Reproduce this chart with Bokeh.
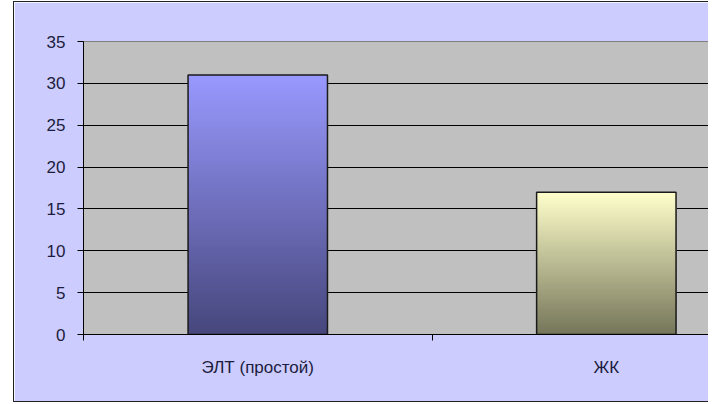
import numpy as np
from bokeh.plotting import figure
from bokeh.models import FixedTicker, Range1d, ColumnDataSource
from bokeh.embed import file_html
from bokeh.resources import INLINE

# ---- data ----
categories = ["ЭЛТ (простой)", "ЖК"]
values = [31, 17]
top_colors = ["#9999FF", "#FFFFCC"]
bottom_colors = ["#46467C", "#75755A"]
y_ticks = [0, 5, 10, 15, 20, 25, 30, 35]

x_pos = [i + 0.5 for i in range(len(categories))]
bar_width = 0.4


def hex2rgb(h):
    h = h.lstrip("#")
    return np.array([int(h[i:i + 2], 16) for i in (0, 2, 4)], dtype=float)


def rgb2hex(c):
    return "#%02x%02x%02x" % tuple(int(round(v)) for v in c)


# gradient layers derived from the values: each layer runs from its start up
# to the bar's top, so later layers cover earlier ones without seams
N = 80
xs, bots, tops, cols = [], [], [], []
for x, v, tc, bc in zip(x_pos, values, top_colors, bottom_colors):
    t_rgb, b_rgb = hex2rgb(tc), hex2rgb(bc)
    edges = np.linspace(0, v, N + 1)
    for i in range(N):
        f = (i + 0.5) / N
        xs.append(x)
        bots.append(edges[i])
        tops.append(v)
        cols.append(rgb2hex(b_rgb + (t_rgb - b_rgb) * f))

grad = ColumnDataSource(dict(x=xs, bottom=bots, top=tops, color=cols))
bars = ColumnDataSource(dict(x=x_pos, top=values))

p = figure(
    width=695, height=401,
    x_range=Range1d(0, 1.796), y_range=Range1d(0, 35),
    output_backend="svg", toolbar_location=None,
    min_border_left=69, min_border_right=0, min_border_top=39, min_border_bottom=69,
    background_fill_color="#C0C0C0", border_fill_color="#CCCCFF",
    margin=(1, 0, 0, 13),
    styles={"border-top": "1px solid #222", "border-left": "1px solid #222",
            "border-bottom": "1px solid #222"},
)
p.outline_line_color = "#808080"

p.vbar(x="x", bottom="bottom", top="top", width=bar_width, source=grad,
       fill_color="color", line_color=None)
p.vbar(x="x", top="top", bottom=0, width=bar_width, source=bars,
       fill_color=None, line_color="#1a1a1a", line_width=1.5)

# y axis
p.yaxis.ticker = FixedTicker(ticks=y_ticks)
p.yaxis.axis_line_color = "black"
p.yaxis.major_tick_line_color = "black"
p.yaxis.major_tick_out = 6
p.yaxis.major_tick_in = 0
p.yaxis.minor_tick_line_color = None
p.yaxis.major_label_standoff = 12
p.yaxis.major_label_text_font = "Liberation Sans"
p.yaxis.major_label_text_font_size = "17px"
p.yaxis.major_label_text_color = "#1c1c3c"

# x axis: labels at category centres, tick marks at boundaries
p.xaxis.ticker = FixedTicker(ticks=x_pos, minor_ticks=[0, 1])
p.xaxis.major_label_overrides = {x: c for x, c in zip(x_pos, categories)}
p.xaxis.major_tick_line_color = None
p.xaxis.minor_tick_line_color = "black"
p.xaxis.minor_tick_out = 6
p.xaxis.minor_tick_in = 0
p.xaxis.axis_line_color = "black"
p.xaxis.major_label_standoff = 17
p.xaxis.major_label_text_font = "Liberation Sans"
p.xaxis.major_label_text_font_size = "17px"
p.xaxis.major_label_text_color = "#1c1c3c"

p.xgrid.grid_line_color = None
p.ygrid.ticker = FixedTicker(ticks=y_ticks[1:-1])
p.ygrid.grid_line_color = "black"
p.ygrid.grid_line_width = 1

open("out.html", "w").write(file_html(p, INLINE))
